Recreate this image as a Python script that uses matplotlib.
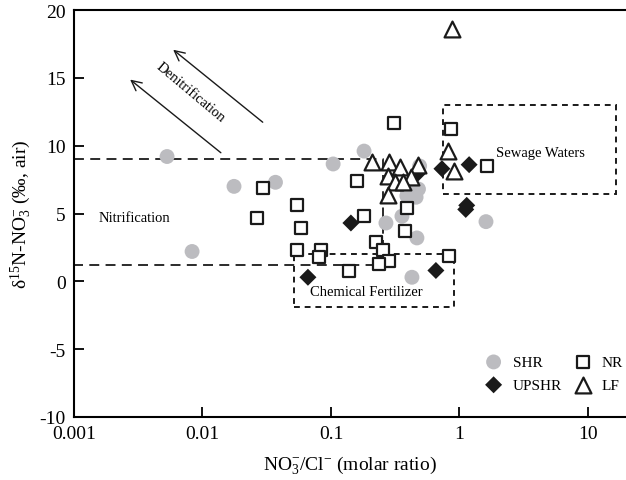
import matplotlib
matplotlib.use("Agg")
import matplotlib.pyplot as plt
from matplotlib.patches import Rectangle

plt.rcParams["font.family"] = ["Liberation Serif", "DejaVu Serif"]
plt.rcParams["mathtext.fontset"] = "custom"
plt.rcParams["mathtext.rm"] = "Liberation Serif"
plt.rcParams["mathtext.it"] = "Liberation Serif:italic"
plt.rcParams["axes.unicode_minus"] = False

# NO3-/Cl- molar ratio and d15N-NO3 values
shr_x = [0.0053, 0.0083, 0.0176, 0.037, 0.104, 0.181, 0.268, 0.357, 0.467, 0.427, 1.61,
         0.39, 0.48, 0.46, 0.39, 0.49]
shr_y = [9.2, 2.2, 7.0, 7.3, 8.65, 9.6, 4.3, 4.8, 3.2, 0.3, 4.4,
         6.8, 6.8, 6.2, 6.3, 8.5]

nr_x = [0.0296, 0.0265, 0.309, 0.859, 1.64, 0.159, 0.0543, 0.181, 0.39, 0.0585, 0.377,
        0.224, 0.254, 0.0543, 0.0836, 0.0807, 0.282, 0.237, 0.138, 0.828]
nr_y = [6.9, 4.7, 11.7, 11.2, 8.5, 7.4, 5.6, 4.8, 5.4, 3.9, 3.7,
        2.9, 2.3, 2.3, 2.3, 1.8, 1.5, 1.3, 0.75, 1.85]

upshr_x = [0.143, 0.0662, 0.656, 1.14, 1.12, 0.731, 1.19, 0.467]
upshr_y = [4.3, 0.3, 0.8, 5.6, 5.3, 8.3, 8.6, 7.9]

lf_x = [0.875, 0.815, 0.906, 0.208, 0.282, 0.344, 0.475, 0.278, 0.42, 0.315, 0.363, 0.278]
lf_y = [18.6, 9.6, 8.1, 8.8, 8.8, 8.4, 8.55, 7.8, 7.7, 7.3, 7.3, 6.4]

fig = plt.figure(figsize=(6.26, 4.81), dpi=100)
ax = fig.add_axes([74 / 626, 63 / 481, 552 / 626, 407 / 481])

h_shr = ax.scatter(shr_x, shr_y, s=115, color="#bcbcc0", edgecolors="none", label="SHR", zorder=3)
h_nr = ax.scatter(nr_x, nr_y, s=85, marker="s", facecolors="white", edgecolors="#1a1a1a",
                  linewidths=1.6, label="NR", zorder=4)
h_up = ax.scatter(upshr_x, upshr_y, s=75, marker="D", color="#1a1a1a", edgecolors="none",
                  label="UPSHR", zorder=5)
h_lf = ax.scatter(lf_x, lf_y, s=130, marker="^", facecolors="white", edgecolors="#1a1a1a",
                  linewidths=1.6, label="LF", zorder=6)

# nitrification zone
ax.plot([0.001, 0.254, 0.254, 0.001], [9.05, 9.05, 1.2, 1.2], color="#1a1a1a", lw=1.3,
        ls=(0, (5.5, 3.5)), zorder=2)

# boxes
ax.add_patch(Rectangle((0.745, 6.45), 16.5 - 0.745, 13.0 - 6.45, fill=False,
                       ec="#1a1a1a", lw=1.4, ls=(0, (3, 2.5)), zorder=2))
ax.add_patch(Rectangle((0.0515, -1.9), 0.906 - 0.0515, 2.0 + 1.9, fill=False,
                       ec="#1a1a1a", lw=1.4, ls=(0, (3, 2.5)), zorder=2))

# denitrification arrows
arrow = dict(arrowstyle="->", color="#1a1a1a", lw=1.0, mutation_scale=18)
ax.annotate("", xy=(0.00569, 17.2), xytext=(0.0306, 11.6), arrowprops=arrow)
ax.annotate("", xy=(0.00263, 15.0), xytext=(0.01445, 9.35), arrowprops=arrow)
ax.text(0.0081, 14.0, "Denitrification", rotation=-40, fontsize=10.5,
        ha="center", va="center")

ax.text(0.00155, 4.7, "Nitrification", fontsize=10.5, ha="left", va="center")
ax.text(4.3, 9.5, "Sewage Waters", fontsize=10.5, ha="center", va="center")
ax.text(0.187, -0.75, "Chemical Fertilizer", fontsize=10.5, ha="center", va="center")

ax.set_xscale("log")
ax.set_xlim(0.001, 19.8)
ax.set_ylim(-10, 20)
ax.set_xticks([0.001, 0.01, 0.1, 1, 10])
ax.set_xticklabels(["0.001", "0.01", "0.1", "1", "10"])
ax.set_yticks([-10, -5, 0, 5, 10, 15, 20])
ax.minorticks_off()
ax.tick_params(direction="in", length=7, width=1.3, labelsize=14, pad=6)
for side in ["left", "bottom", "top"]:
    ax.spines[side].set_linewidth(1.5)
ax.spines["right"].set_visible(False)

ax.set_xlabel("NO$_3^{-}$/Cl$^{-}$ (molar ratio)", fontsize=14, labelpad=8)
ax.set_ylabel("δ$^{15}$N-NO$_3^{-}$ (‰, air)", fontsize=14, labelpad=4)

ax.legend(handles=[h_shr, h_up, h_nr, h_lf], loc="upper left", bbox_to_anchor=(0.72, 0.178),
          ncol=2, frameon=False, fontsize=11, handlelength=1.5, handletextpad=0.5,
          columnspacing=0.6, labelspacing=0.6, borderpad=0.2)

fig.savefig("out.png", dpi=100)
